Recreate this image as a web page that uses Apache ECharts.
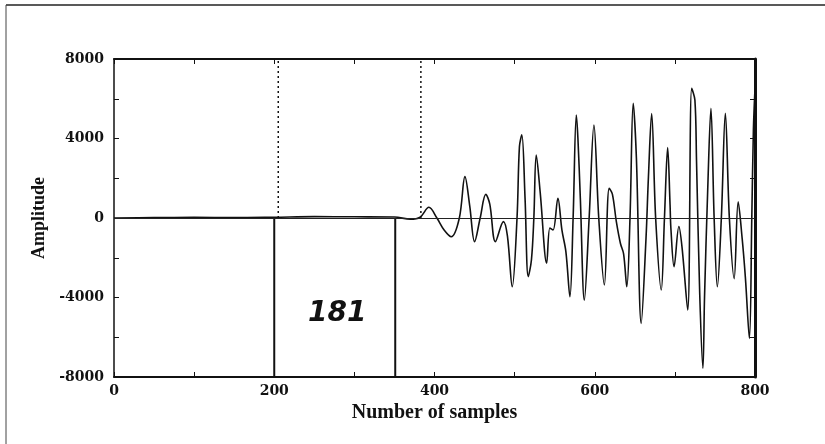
<!DOCTYPE html>
<html>
<head>
<meta charset="utf-8">
<script src="https://cdn.jsdelivr.net/npm/echarts@6/dist/echarts.min.js"></script>
<style>
    html, body { margin: 0; padding: 0; background: #fff; }
    #main { width: 825px; height: 444px; }
</style>
</head>
<body>
<div id="main"></div>
<script>
// sample index / amplitude
var samples = [0, 50, 100, 150, 200, 250, 300, 350, 370, 382,
    393, 403, 412, 421, 431, 438, 444, 450, 457, 464, 469, 476, 486, 491, 497,
    503, 506, 509, 513, 517, 521, 524, 527, 532, 540, 544, 548, 554, 559, 564, 569,
    573, 577, 579, 582, 587, 593, 599, 605, 612, 618, 622, 627, 632, 636, 640,
    644, 648, 652, 658, 664, 667, 671, 676, 683, 687, 691, 694, 695, 699, 705, 709, 716,
    721, 725, 727, 731, 735, 737, 741, 745, 749, 753, 758, 763, 768, 774, 779, 784, 788,
    793, 796, 798, 800];
var amplitude = [0, 20, 30, 20, 40, 70, 60, 50, -60, 40,
    540, 0, -600, -940, 0, 2080, 600, -1190, 0, 1190, 700, -1190, -180, -900, -3460,
    0, 3590, 4180, 1000, -2950, -2100, 0, 3170, 1250, -2280, -500, -600, 990, -600, -1700, -3960,
    0, 5180, 4000, 1000, -4130, 0, 4680, 0, -3370, 1490, 1200, -200, -1270, -1800, -3460,
    0, 5770, 3000, -5300, -1000, 2070, 5250, 0, -3620, 0, 3540, 650, -500, -2450, -430, -1500, -4630,
    6520, 5930, 2900, -3800, -7560, -4000, 1450, 5520, 0, -3460, 0, 5270, 0, -3050, 810, -1040, -3000,
    -6060, 0, 4430, 6500];

var xTicks = [0, 200, 400, 600, 800];
var yTicks = [-8000, -4000, 0, 4000, 8000];

// window markers: solid below the baseline, dotted above it
var solidMarks = [200, 351];
var dottedMarks = [205, 383];

var labelFont = 'DejaVu Serif';
var nameFont = 'Liberation Serif';

function pairs(xs, ys) {
    return xs.map(function (x, i) { return [x, ys[i]]; });
}

function markerSeries(x, top, dotted) {
    return {
        type: 'line',
        silent: true,
        symbol: 'none',
        animation: false,
        lineStyle: {
            color: '#111',
            width: dotted ? 1.5 : 2,
            type: dotted ? [2, 3] : 'solid'
        },
        data: [[x, 0], [x, top]]
    };
}

var chart = echarts.init(document.getElementById('main'));

var series = [{
    name: 'Amplitude',
    type: 'line',
    symbol: 'none',
    smooth: 0.35,
    animation: false,
    lineStyle: { color: '#111', width: 1.6 },
    data: pairs(samples, amplitude),
    markLine: {
        silent: true,
        symbol: 'none',
        label: { show: false },
        lineStyle: { color: '#222', width: 1.2, type: 'solid' },
        data: [{ yAxis: 0 }]
    }
}];
solidMarks.forEach(function (x) {
    series.push(markerSeries(x, -8000, false));
});
dottedMarks.forEach(function (x) {
    series.push(markerSeries(x, 8000, true));
});

var option = {
    backgroundColor: '#fff',
    animation: false,
    grid: {
        left: 114,
        right: 70,
        top: 59,
        bottom: 67
    },
    xAxis: [{
        type: 'value',
        min: 0,
        max: 800,
        interval: 100,
        position: 'bottom',
        name: 'Number of samples',
        nameLocation: 'middle',
        nameGap: 19,
        nameTextStyle: {
            fontFamily: nameFont,
            fontWeight: 'bold',
            fontSize: 20,
            color: '#111'
        },
        axisLine: { onZero: false, lineStyle: { color: '#111', width: 2 } },
        axisTick: { inside: true, length: 5, lineStyle: { color: '#111' } },
        axisLabel: {
            margin: 7,
            fontFamily: labelFont,
            fontWeight: 'bold',
            fontSize: 14,
            color: '#111',
            formatter: function (v) {
                return xTicks.indexOf(v) >= 0 ? String(v) : '';
            }
        },
        splitLine: { show: false }
    }, {
        type: 'value',
        min: 0,
        max: 800,
        interval: 100,
        position: 'top',
        axisLine: { onZero: false, lineStyle: { color: '#111', width: 2 } },
        axisTick: { inside: true, length: 5, lineStyle: { color: '#111' } },
        axisLabel: { show: false },
        splitLine: { show: false }
    }],
    yAxis: [{
        type: 'value',
        min: -8000,
        max: 8000,
        interval: 2000,
        position: 'left',
        name: 'Amplitude',
        nameLocation: 'middle',
        nameGap: 64,
        nameTextStyle: {
            fontFamily: nameFont,
            fontWeight: 'bold',
            fontSize: 18,
            color: '#111'
        },
        axisLine: { onZero: false, lineStyle: { color: '#111', width: 1.5 } },
        axisTick: { inside: true, length: 5, lineStyle: { color: '#111' } },
        axisLabel: {
            margin: 10,
            fontFamily: labelFont,
            fontWeight: 'bold',
            fontSize: 14,
            color: '#111',
            formatter: function (v) {
                return yTicks.indexOf(v) >= 0 ? String(v) : '';
            }
        },
        splitLine: { show: false }
    }, {
        type: 'value',
        min: -8000,
        max: 8000,
        interval: 2000,
        position: 'right',
        axisLine: { onZero: false, lineStyle: { color: '#111', width: 3 } },
        axisTick: { inside: true, length: 5, lineStyle: { color: '#111' } },
        axisLabel: { show: false },
        splitLine: { show: false }
    }],
    graphic: [{
        type: 'line',
        shape: { x1: 6, y1: 5, x2: 825, y2: 5 },
        style: { stroke: '#222', lineWidth: 1.5 }
    }, {
        type: 'line',
        shape: { x1: 6, y1: 5, x2: 6, y2: 444 },
        style: { stroke: '#444', lineWidth: 1 }
    }, {
        type: 'text',
        left: 308,
        top: 300,
        style: {
            text: '181',
            font: 'italic bold 28px "DejaVu Sans"',
            fill: '#111'
        }
    }],
    series: series
};

chart.setOption(option);
</script>
</body>
</html>
